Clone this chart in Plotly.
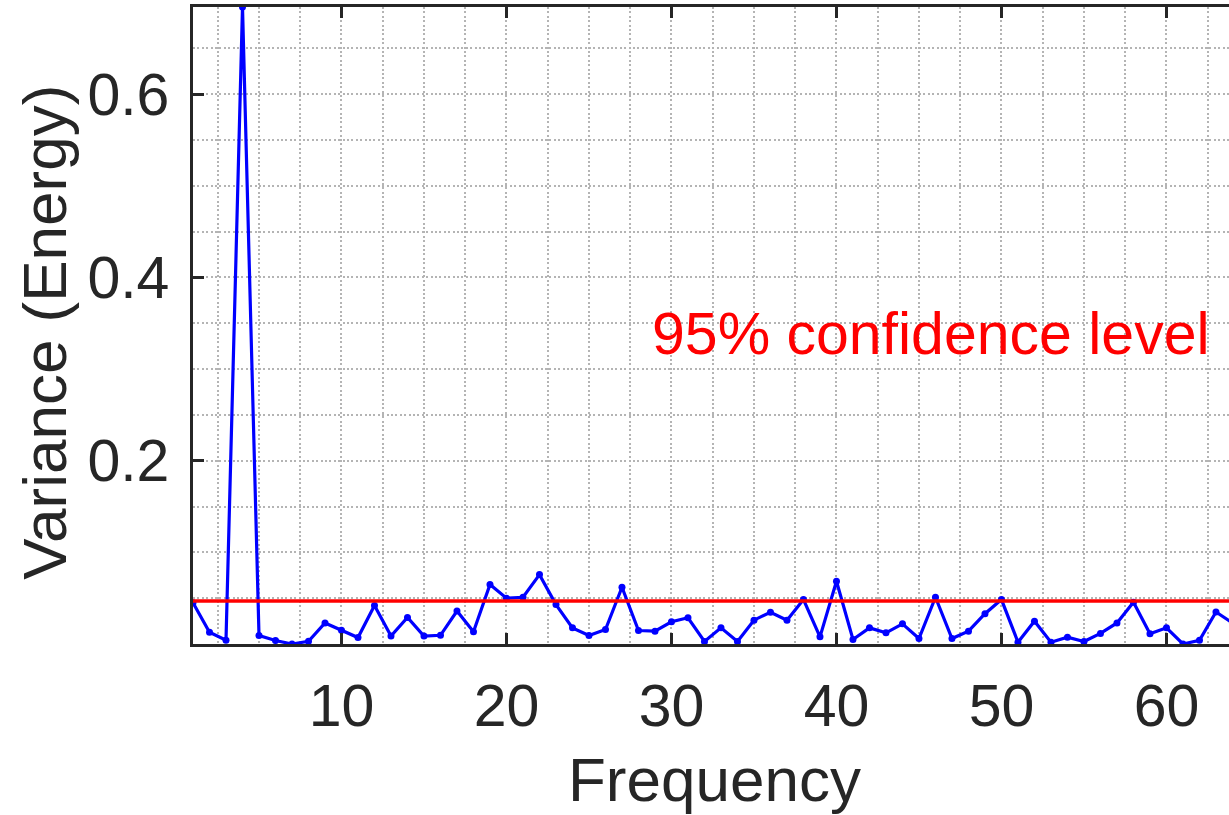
import plotly.graph_objects as go

frequency = list(range(1, 65))
variance = [0.0449, 0.0129, 0.0041, 0.695, 0.0093, 0.0038, 0.0000, 0.0030, 0.0230, 0.0150,
            0.0070, 0.0420, 0.0087, 0.0290, 0.0087, 0.0095, 0.0360, 0.0134, 0.0650, 0.0500,
            0.0510, 0.0757, 0.0430, 0.0176, 0.0093, 0.0158, 0.0619, 0.0147, 0.0140, 0.0242,
            0.0286, 0.0027, 0.0176, 0.0027, 0.0260, 0.0347, 0.0260, 0.0485, 0.0078, 0.0684,
            0.0049, 0.0176, 0.0122, 0.0220, 0.0060, 0.0510, 0.0060, 0.0140, 0.0330, 0.0485,
            0.0020, 0.0249, 0.0020, 0.0074, 0.0027, 0.0115, 0.0230, 0.0456, 0.0111, 0.0177,
            0.0000, 0.0040, 0.0350, 0.0230]
confidence_level = 0.047
x_ticks = [10, 20, 30, 40, 50, 60]
y_ticks = [0.2, 0.4, 0.6]

FONT = "Liberation Sans, Arial, sans-serif"
AX = "#262626"
GRID = "#b4b4b4"
FS = 59
LFS = 62

fig = go.Figure()
fig.add_trace(go.Scatter(
    x=frequency, y=variance, mode="lines+markers",
    line=dict(color="#0000ff", width=3.2),
    marker=dict(color="#0000ff", size=7),
    showlegend=False, cliponaxis=True,
))
fig.add_trace(go.Scatter(
    x=[frequency[0], frequency[-1]], y=[confidence_level, confidence_level],
    mode="lines", line=dict(color="#ff0000", width=3.5), showlegend=False,
))

fig.update_layout(
    width=1229, height=815,
    margin=dict(l=193, r=0, t=7, b=171, pad=0),
    paper_bgcolor="white", plot_bgcolor="white",
    font=dict(family=FONT, size=FS, color=AX),
    xaxis=dict(
        range=[1, 63.79], tickmode="array", tickvals=x_ticks,
        ticktext=[str(v) for v in x_ticks],
        ticks="inside", ticklen=11, tickwidth=2.5, tickcolor=AX,
        showline=True, linecolor=AX, linewidth=2.5, mirror="ticks",
        showgrid=True, gridcolor=GRID, gridwidth=1.5, griddash="2px,2.4px",
        minor=dict(dtick=2.5, tick0=0, showgrid=True, gridcolor=GRID,
                   gridwidth=1.5, griddash="2px,2.4px", ticks=""),
        zeroline=False, tickfont=dict(family=FONT, size=FS, color=AX),
        ticklabelstandoff=8,
    ),
    yaxis=dict(
        range=[0, 0.695], tickmode="array", tickvals=y_ticks,
        ticktext=[f"{v:.1f}" for v in y_ticks],
        ticks="inside", ticklen=11, tickwidth=2.5, tickcolor=AX,
        showline=True, linecolor=AX, linewidth=2.5, mirror=False,
        showgrid=True, gridcolor=GRID, gridwidth=1.5, griddash="2px,2.4px",
        minor=dict(dtick=0.05, tick0=0, showgrid=True, gridcolor=GRID,
                   gridwidth=1.5, griddash="2px,2.4px", ticks=""),
        zeroline=False, tickfont=dict(family=FONT, size=FS, color=AX),
        ticklabelstandoff=9,
    ),
    annotations=[
        dict(text="Frequency", xref="paper", yref="paper", x=0.503, y=-0.212,
             xanchor="center", yanchor="middle", showarrow=False, borderpad=0,
             font=dict(family=FONT, size=LFS, color=AX)),
        dict(text="Variance (Energy)", xref="paper", yref="paper", x=-0.143, y=0.49,
             xanchor="center", yanchor="middle", textangle=-90, showarrow=False,
             font=dict(family=FONT, size=LFS, color=AX)),
        dict(text="95% confidence level", xref="paper", yref="y", x=0.9836, y=0.338,
             xanchor="right", yanchor="middle", showarrow=False,
             font=dict(family=FONT, size=FS, color="#ff0000")),
    ],
)

fig.write_html("out.html")
